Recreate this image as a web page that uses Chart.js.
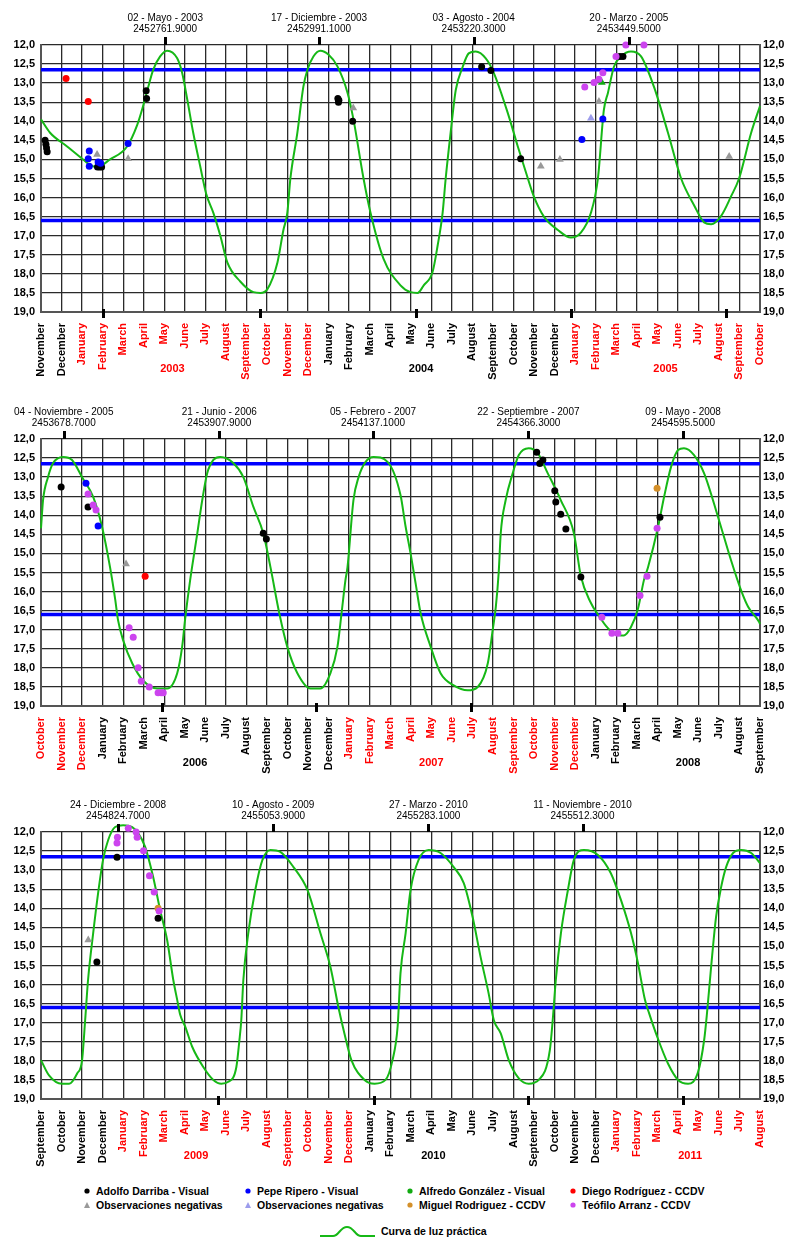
<!DOCTYPE html>
<html><head><meta charset="utf-8">
<script src="https://cdn.jsdelivr.net/npm/chart.js@4/dist/chart.umd.min.js"></script>
<style>
html,body{margin:0;padding:0;background:#fff;width:800px;height:1258px;overflow:hidden;font-family:"Liberation Sans",Arial,sans-serif}
.pc{position:absolute;left:0}
.li{position:absolute;font:bold 10.5px "Liberation Sans",Arial,sans-serif;color:#000;white-space:nowrap;line-height:12px}
.mk{position:absolute}
</style></head><body>
<canvas id="c0" class="pc" width="800" height="394" style="top:0px"></canvas>
<canvas id="c1" class="pc" width="800" height="394" style="top:394px"></canvas>
<canvas id="c2" class="pc" width="800" height="394" style="top:787px"></canvas>
<div id="legend"></div>
<script>
// ---------- DATA ----------
// x values: months since 1 November 2002 (axis start); curves are given per panel in months since panel start
const monthNames = ['January','February','March','April','May','June','July','August','September','October','November','December'];
const panelStarts = [0, 35, 70];   // Nov 2002, Oct 2005, Sep 2008
const panelSpan = 35;
const limitLines = [12.65, 16.6];

const curve1 = [[0,13.95],[0.44,14.3],[1.27,14.66],[2.05,15.0],[2.39,15.15],[2.73,15.2],[3.36,15.0],[4.19,14.66],[4.68,14.1],[4.97,13.6],[5.22,13.1],[5.46,12.65],[5.8,12.3],[6.14,12.15],[6.63,12.35],[6.87,12.73],[7.12,13.43],[7.41,14.3],[7.75,15.18],[8.04,15.9],[8.39,16.4],[8.73,17.0],[9.07,17.7],[9.7,18.2],[10.34,18.48],[10.68,18.5],[11.02,18.4],[11.51,17.7],[11.8,16.85],[11.99,16.4],[12.14,15.5],[12.48,14.3],[12.77,13.1],[12.97,12.65],[13.26,12.3],[13.6,12.15],[13.99,12.25],[14.43,12.56],[14.92,13.25],[15.21,13.95],[15.7,15.5],[16.04,16.4],[16.67,17.6],[17.5,18.3],[17.99,18.48],[18.33,18.5],[18.63,18.3],[19.06,17.95],[19.31,17.25],[19.55,16.4],[19.7,15.5],[19.94,14.3],[20.19,13.18],[20.53,12.57],[20.82,12.22],[21.16,12.17],[21.65,12.35],[22.04,12.73],[22.72,13.78],[23.21,14.66],[23.7,15.5],[23.99,15.97],[24.48,16.5],[25.16,16.85],[25.79,17.05],[26.28,16.92],[26.77,16.4],[27.11,15.5],[27.4,13.7],[27.6,13.25],[27.89,12.57],[28.23,12.3],[28.72,12.17],[29.21,12.3],[29.84,13.1],[30.52,14.3],[31.16,15.5],[31.79,16.2],[32.28,16.65],[32.62,16.7],[33.11,16.48],[33.59,15.97],[33.98,15.5],[34.57,14.3],[35,13.6]];

const curve2 = [[0,14.34],[0.1,13.6],[0.34,13.0],[0.59,12.63],[1.07,12.47],[1.51,12.55],[2.0,13.0],[2.54,13.52],[2.97,14.3],[3.36,15.36],[3.61,16.2],[3.75,16.75],[4.0,17.28],[4.44,17.88],[4.97,18.33],[5.66,18.54],[6.14,18.54],[6.63,18.14],[6.87,17.45],[7.02,16.7],[7.26,15.7],[7.61,14.47],[7.85,13.6],[8.09,12.9],[8.39,12.55],[8.73,12.47],[9.36,12.63],[9.85,13.0],[10.34,13.78],[10.82,14.47],[11.17,15.36],[11.6,16.57],[11.99,17.45],[12.48,18.14],[13.12,18.54],[13.6,18.54],[14.09,18.14],[14.43,17.45],[14.63,16.57],[14.82,15.7],[14.92,15.36],[15.21,13.6],[15.46,13.0],[15.8,12.6],[16.19,12.47],[16.87,12.6],[17.5,13.47],[17.75,14.3],[17.99,15.0],[18.24,15.8],[18.48,16.57],[18.97,17.45],[19.45,18.14],[20.09,18.46],[20.77,18.59],[21.26,18.5],[21.75,17.88],[21.99,17.0],[22.14,16.4],[22.28,15.5],[22.38,14.47],[22.62,13.6],[22.96,12.9],[23.26,12.42],[23.74,12.24],[24.18,12.37],[24.67,12.9],[25.3,13.6],[25.94,14.47],[26.28,15.6],[26.77,16.3],[27.11,16.6],[27.5,16.9],[27.89,17.1],[28.38,17.15],[28.72,16.93],[29.06,16.45],[29.35,15.7],[29.55,15.36],[30.04,14.3],[30.33,13.52],[30.67,12.73],[31.01,12.29],[31.3,12.24],[31.79,12.42],[32.28,12.9],[32.96,14.05],[33.59,15.18],[34.08,15.97],[34.42,16.4],[34.96,16.8],[35,16.85]];

const curve3 = [[0,17.98],[0.39,18.38],[1.02,18.6],[1.37,18.6],[1.76,18.33],[2.0,17.98],[2.15,16.93],[2.29,15.88],[2.54,14.65],[2.78,13.6],[3.02,12.73],[3.27,12.21],[3.61,11.87],[4.0,11.82],[4.44,11.87],[4.73,12.03],[5.07,12.39],[5.46,13.18],[5.8,14.05],[6.14,14.83],[6.44,15.88],[6.63,16.4],[6.78,16.8],[7.02,17.1],[7.36,17.63],[7.9,18.16],[8.39,18.5],[8.78,18.6],[9.12,18.55],[9.51,18.16],[9.65,17.5],[9.75,16.93],[9.85,15.88],[10.09,14.65],[10.43,13.52],[10.78,12.73],[11.17,12.47],[11.65,12.52],[12.29,12.92],[12.97,13.52],[13.6,14.65],[14.09,15.54],[14.48,16.6],[14.77,17.28],[15.11,17.98],[15.75,18.5],[16.24,18.6],[16.77,18.5],[17.11,17.98],[17.36,17.1],[17.5,15.7],[17.75,14.65],[17.99,13.52],[18.38,12.73],[18.87,12.47],[19.45,12.55],[20.09,12.92],[20.58,13.34],[21.01,14.23],[21.4,15.28],[21.79,16.23],[22.04,16.93],[22.38,17.28],[22.77,17.98],[23.26,18.46],[23.74,18.6],[24.23,18.5],[24.77,17.72],[24.91,16.93],[25.06,15.88],[25.31,14.65],[25.65,13.52],[25.94,12.73],[26.43,12.47],[27.11,12.6],[27.74,13.08],[28.23,13.78],[28.72,14.65],[29.06,15.44],[29.4,16.4],[29.6,16.75],[29.99,17.36],[30.52,18.07],[31.01,18.5],[31.5,18.6],[31.98,18.3],[32.28,17.46],[32.42,16.75],[32.62,15.54],[32.86,14.23],[33.11,13.44],[33.35,12.92],[33.69,12.55],[34.08,12.47],[34.57,12.55],[34.96,12.79],[35,12.82]];

const adolfoDarriba = [[0.2,14.5],[0.24,14.6],[0.27,14.7],[0.3,14.8],[2.75,15.2],[2.85,15.2],[2.95,15.2],[5.12,13.2],[5.14,13.4],[14.45,13.4],[14.48,13.5],[14.5,13.45],[15.17,14.0],[21.45,12.57],[21.9,12.67],[23.35,14.98],[28.18,12.3],[28.33,12.3],[35.98,13.26],[37.29,13.78],[45.82,14.47],[45.97,14.62],[59.13,12.35],[59.28,12.64],[59.43,12.55],[60.01,13.36],[60.06,13.65],[60.3,13.97],[60.55,14.36],[61.28,15.62],[65.13,14.05],[72.72,15.41],[73.7,12.66],[75.7,14.26]];
const pepeRipero = [[2.3,14.98],[2.35,14.78],[2.35,15.18],[2.78,15.07],[2.9,15.1],[4.24,14.58],[26.33,14.48],[27.35,13.94],[37.19,13.16],[37.78,14.28]];
const alfredoGonzalez = [[27.3,12.98]];
const diegoRodriguez = [[1.22,12.88],[2.3,13.48],[40.07,15.6]];
const negativasGris = [[2.73,14.87],[4.24,14.98],[15.2,13.65],[24.33,15.18],[25.26,15.0],[27.16,13.48],[33.5,14.92],[39.14,15.28],[72.3,14.83]];
const negativasAzul = [[26.77,13.92]];
const miguelRodriguez = [[64.99,13.29],[75.7,14.0]];
const teofiloArranz = [[26.47,13.1],[26.92,12.98],[27.16,12.9],[27.35,12.73],[27.99,12.3],[28.47,12.0],[29.35,12.0],[37.29,13.44],[37.54,13.73],[37.68,13.86],[39.29,16.95],[39.49,17.2],[39.73,18.0],[39.88,18.35],[40.27,18.5],[40.7,18.65],[40.85,18.65],[40.95,18.65],[62.3,16.67],[62.79,17.09],[63.08,17.09],[64.16,16.1],[64.5,15.6],[64.99,14.34],[73.7,12.29],[73.72,12.14],[74.25,11.9],[74.63,12.0],[74.68,12.14],[74.99,12.49],[75.28,13.15],[75.51,13.57],[75.75,14.07]];

const maximaText = ['02 - Mayo - 2003','17 - Diciembre - 2003','03 - Agosto - 2004','20 - Marzo - 2005','04 - Noviembre - 2005','21 - Junio - 2006','05 - Febrero - 2007','22 - Septiembre - 2007','09 - Mayo - 2008','24 - Diciembre - 2008','10 - Agosto - 2009','27 - Marzo - 2010','11 - Noviembre - 2010'];
const maximaJD = [2452761.9,2452991.1,2453220.3,2453449.5,2453678.7,2453907.9,2454137.1,2454366.3,2454595.5,2454824.7,2455053.9,2455283.1,2455512.3];
const minimaT = [3.02,10.68,18.24,25.79,33.35,40.9,48.41,55.92,63.38,78.63,86.19,93.7,101.25];
const yearLabelText = ['2003','2004','2005','2006','2007','2008','2009','2010','2011'];
const yearLabelT = [6.4,18.5,30.4,42.5,54.0,66.5,77.55,89.1,101.6];

// ---------- HELPERS ----------
const FONT = '"Liberation Sans", Arial, sans-serif';
const yearOfT = t => 2002 + Math.floor((10 + Math.round(t)) / 12);
const yearColor = y => (y % 2 === 1 ? '#ff0000' : '#000000');
function jdToT(jd) {
  const d = new Date((jd - 2440587.5) * 86400000);
  const y = d.getUTCFullYear(), m = d.getUTCMonth();
  const dim = new Date(Date.UTC(y, m + 1, 0)).getUTCDate();
  const frac = (d.getUTCDate() - 1) + (d.getUTCHours() * 3600 + d.getUTCMinutes() * 60 + d.getUTCSeconds()) / 86400;
  return (y - 2002) * 12 + (m - 10) + frac / dim;
}
const toXY = arr => arr.map(p => ({x: p[0], y: p[1]}));

const annot = {
  id: 'annot',
  afterDraw(chart) {
    const ctx = chart.ctx, xs = chart.scales.x, a = chart.chartArea;
    const t0 = xs.min, t1 = xs.max;
    ctx.save();
    ctx.fillStyle = '#000';
    ctx.textAlign = 'center';
    ctx.textBaseline = 'middle';
    ctx.font = '10px ' + FONT;
    maximaJD.forEach((jd, k) => {
      const t = jdToT(jd);
      if (t < t0 || t > t1) return;
      const px = xs.getPixelForValue(t);
      ctx.fillStyle = '#000';
      ctx.fillRect(Math.round(px) - 1, a.top - 8, 3, 8);
      ctx.fillText(maximaText[k], px, 18);
      ctx.fillText(jd.toFixed(4), px, 29);
    });
    minimaT.forEach(t => {
      if (t < t0 || t > t1) return;
      const px = xs.getPixelForValue(t);
      ctx.fillStyle = '#000';
      ctx.fillRect(Math.round(px) - 1, a.bottom - 3, 3, 9);
    });
    ctx.font = 'bold 11px ' + FONT;
    yearLabelT.forEach((t, k) => {
      if (t < t0 || t > t1) return;
      const px = xs.getPixelForValue(t);
      ctx.fillStyle = yearColor(parseInt(yearLabelText[k], 10));
      ctx.fillText(yearLabelText[k], px, 369);
    });
    ctx.restore();
  }
};

const obsDefs = [
  {data: adolfoDarriba, color: '#000000', style: 'circle', r: 3.5},
  {data: pepeRipero, color: '#0000ff', style: 'circle', r: 3.5},
  {data: alfredoGonzalez, color: '#11aa11', style: 'triangle', r: 4.5},
  {data: diegoRodriguez, color: '#ff0000', style: 'circle', r: 3.5},
  {data: negativasGris, color: '#999999', style: 'triangle', r: 4.5},
  {data: negativasAzul, color: '#9c9cec', style: 'triangle', r: 4.5},
  {data: miguelRodriguez, color: '#d4902a', style: 'circle', r: 3.5},
  {data: teofiloArranz, color: '#cc44ee', style: 'circle', r: 3.5}
];
const curves = [curve1, curve2, curve3];

function makePanel(i) {
  const t0 = panelStarts[i], t1 = t0 + panelSpan;
  const inRange = arr => arr.filter(p => p[0] >= t0 && p[0] <= t1);
  const datasets = [];
  obsDefs.slice().reverse().forEach(o => {
    datasets.push({
      data: toXY(inRange(o.data)), showLine: false, pointStyle: o.style, pointRadius: o.r,
      backgroundColor: o.color, borderColor: o.color, borderWidth: 0, order: 0, clip: false
    });
  });
  datasets.push({
    data: curves[i].map(p => ({x: p[0] + t0, y: p[1]})), showLine: true, pointRadius: 0,
    borderColor: '#16b816', borderWidth: 2, cubicInterpolationMode: 'monotone', order: 1, clip: false
  });
  limitLines.forEach(v => datasets.push({
    data: [{x: t0, y: v}, {x: t1, y: v}], showLine: true, pointRadius: 0,
    borderColor: '#0000ff', borderWidth: 3.5, order: 2
  }));
  const yTicks = (pad) => ({stepSize: 0.5, maxTicksLimit: 100, padding: pad, color: '#000',
    font: {family: FONT, size: 11, weight: 'bold'}, callback: v => v.toFixed(1).replace('.', ',')});
  new Chart(document.getElementById('c' + i), {
    type: 'scatter',
    data: {datasets},
    options: {
      responsive: false, animation: false, devicePixelRatio: 1,
      layout: {padding: {top: 45, left: 0, right: 0, bottom: 0}},
      plugins: {legend: {display: false}, tooltip: {enabled: false}},
      scales: {
        x: {
          type: 'linear', position: 'bottom', min: t0, max: t1, offset: false,
          ticks: {stepSize: 1, maxTicksLimit: 100, autoSkip: false, minRotation: 90, maxRotation: 90, padding: 11,
            font: {family: FONT, size: 11, weight: 'bold'},
            color: c => yearColor(yearOfT(c.tick.value)),
            callback: v => monthNames[(10 + Math.round(v)) % 12]},
          grid: {color: '#2a2a2a', lineWidth: 1.3, drawTicks: false},
          border: {color: '#555', width: 2},
          afterFit: s => { s.height = 82; }
        },
        y: {
          type: 'linear', position: 'left', reverse: true, min: 12, max: 19,
          ticks: yTicks(6),
          grid: {color: '#2a2a2a', lineWidth: 1.3, drawTicks: false},
          border: {color: '#555', width: 2},
          afterFit: s => { s.width = 41; }
        },
        y2: {
          type: 'linear', position: 'right', reverse: true, min: 12, max: 19,
          ticks: yTicks(3),
          grid: {drawOnChartArea: false, drawTicks: false},
          border: {color: '#555', width: 2},
          afterFit: s => { s.width = 40; }
        }
      }
    },
    plugins: [annot]
  });
}
[0, 1, 2].forEach(makePanel);

// ---------- LEGEND (HTML text) ----------
const legendLabels = ['Adolfo Darriba - Visual','Pepe Ripero - Visual','Alfredo González - Visual','Diego Rodríguez - CCDV',
  'Observaciones negativas','Observaciones negativas','Miguel Rodriguez - CCDV','Teófilo Arranz - CCDV'];
const legendOrder = [0, 1, 2, 3, 4, 5, 6, 7];
const legendMarkerStyle = ['circle','circle','circle','circle','triangle','triangle','circle','circle'];
const colX = [87, 248, 410, 573], rowY = [1191, 1205];
const lg = document.getElementById('legend');
legendOrder.forEach((k, idx) => {
  const cx = colX[idx % 4], cy = rowY[Math.floor(idx / 4)];
  const col = k === 2 ? '#11aa11' : obsDefs[k].color;
  const svg = legendMarkerStyle[k] === 'circle'
    ? `<svg class="mk" style="left:${cx-3}px;top:${cy-3}px" width="6" height="6"><circle cx="3" cy="3" r="2.6" fill="${col}"/></svg>`
    : `<svg class="mk" style="left:${cx-3}px;top:${cy-3}px" width="6" height="6"><polygon points="3,0 6,6 0,6" fill="${col}"/></svg>`;
  lg.insertAdjacentHTML('beforeend', svg + `<div class="li" style="left:${cx+9}px;top:${cy-6}px">${legendLabels[k]}</div>`);
});
lg.insertAdjacentHTML('beforeend',
  `<svg class="mk" style="left:320px;top:1224px" width="56" height="14"><path d="M0 12 L13 12 C19 12 20 3 27 3 C34 3 35 12 41 12 L55 12" fill="none" stroke="#16b816" stroke-width="2"/></svg>` +
  `<div class="li" style="left:381px;top:1225px">Curva de luz práctica</div>`);
</script>
</body></html>
